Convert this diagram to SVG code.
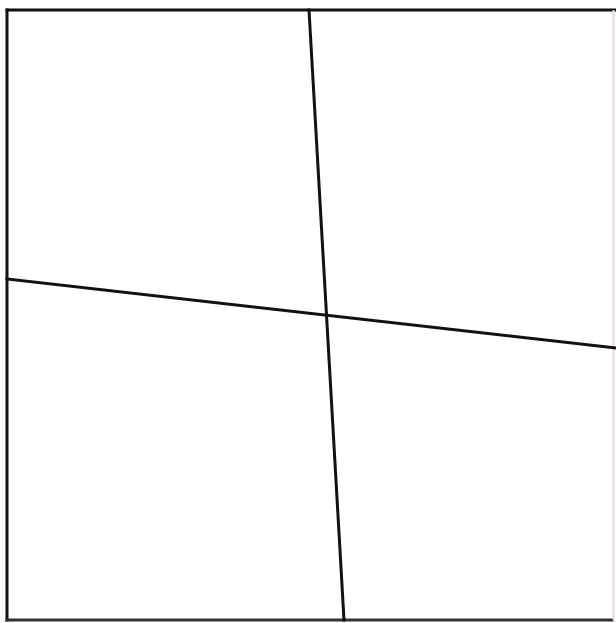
<svg xmlns="http://www.w3.org/2000/svg" width="616" height="623" viewBox="0 0 616 623">
<style>.l{stroke:#111;stroke-width:3;fill:none;stroke-linecap:square}</style>
<rect width="616" height="623" fill="#fff"/>
<g id="frame">
<line class="l" x1="7" y1="10" x2="616" y2="10"/>
<line class="l" x1="7" y1="10" x2="7" y2="620"/>
<line class="l" x1="7" y1="620" x2="612" y2="620" style="stroke:#333"/>
<line x1="613.5" y1="10" x2="613.5" y2="620" stroke="#e8d8d8" stroke-width="2"/>
</g>
<g id="connectors">
<line class="l" x1="309" y1="10" x2="344" y2="620"/>
<line class="l" x1="7" y1="279" x2="616" y2="348"/>
</g>
</svg>
